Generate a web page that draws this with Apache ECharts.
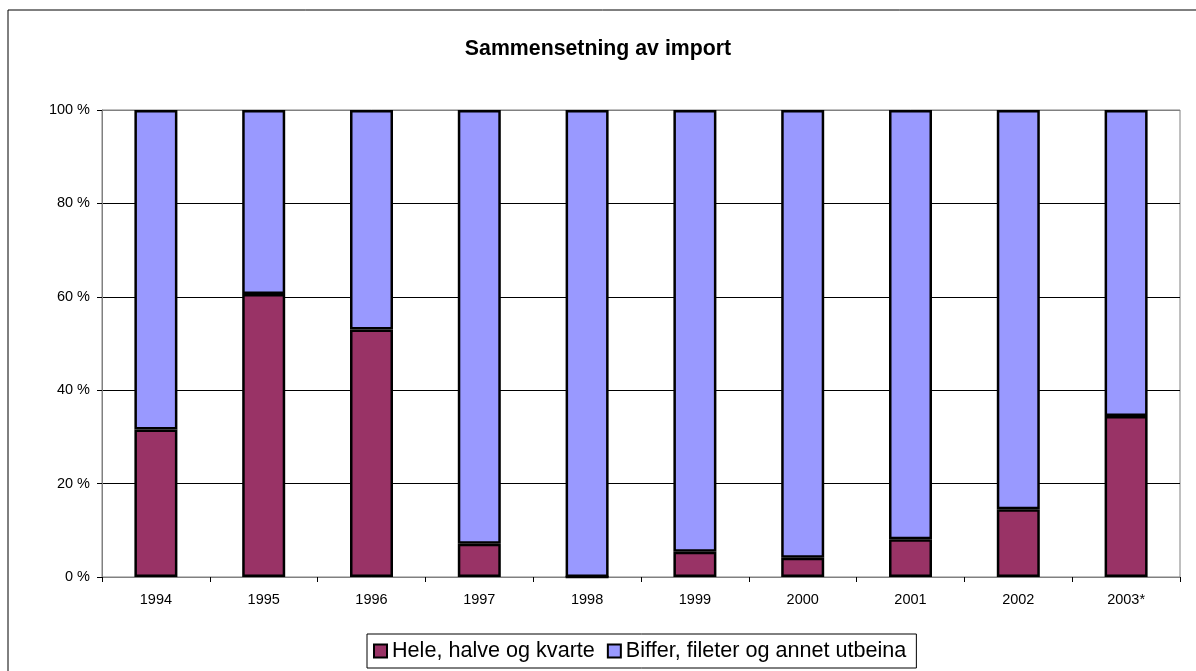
<!DOCTYPE html>
<html>
<head>
<meta charset="utf-8">
<script src="https://cdn.jsdelivr.net/npm/echarts@6/dist/echarts.min.js"></script>
<style>
  html, body { margin: 0; padding: 0; background: #fff; }
  #chart { width: 1196px; height: 671px; }
</style>
</head>
<body>
<div id="chart"></div>
<script>
// kategorier og andeler (prosent)
var years = ["1994", "1995", "1996", "1997", "1998", "1999", "2000", "2001", "2002", "2003*"];
var hele = [31.6, 60.6, 53.0, 7.1, 0, 5.4, 4.1, 8.1, 14.5, 34.5];
var biffer = [68.4, 39.4, 47.0, 92.9, 100, 94.6, 95.9, 91.9, 85.5, 65.5];
var yTicks = [0, 20, 40, 60, 80, 100];

var chart = echarts.init(document.getElementById("chart"));

var font = "Liberation Sans, Arial, sans-serif";

var option = {
  animation: false,
  backgroundColor: "#fff",
  textStyle: { fontFamily: font },
  title: {
    text: "Sammensetning av import",
    left: "center",
    top: 34,
    textStyle: { fontSize: 21.3, fontWeight: "bold", color: "#000", fontFamily: font }
  },
  // ramme rundt hele diagrammet
  graphic: [
    {
      type: "rect",
      shape: { x: 8, y: 10, width: 1300, height: 800 },
      style: { fill: "none", stroke: "#000", lineWidth: 1 },
      silent: true
    }
  ],
  grid: {
    left: 102,
    right: 16,
    top: 110,
    bottom: 94,
    show: true,
    borderColor: "#808080",
    borderWidth: 1,
    backgroundColor: "transparent"
  },
  legend: {
    data: ["Hele, halve og kvarte", "Biffer, fileter og annet utbeina"],
    left: 367,
    top: 634,
    orient: "horizontal",
    icon: "rect",
    itemWidth: 13,
    itemHeight: 13,
    itemGap: 12,
    padding: [6, 10, 6, 6],
    borderColor: "#000",
    borderWidth: 1,
    textStyle: { fontSize: 21.6, color: "#000", fontFamily: font }
  },
  xAxis: {
    type: "category",
    data: years,
    axisLine: { lineStyle: { color: "#808080", width: 1 } },
    axisTick: { show: true, lineStyle: { color: "#000" }, length: 5 },
    axisLabel: { color: "#000", fontSize: 14.5, margin: 15, fontFamily: font }
  },
  yAxis: {
    type: "value",
    min: yTicks[0],
    max: yTicks[yTicks.length - 1],
    interval: 20,
    axisLine: { show: true, lineStyle: { color: "#808080", width: 1 } },
    axisTick: { show: true, lineStyle: { color: "#000" }, length: 5 },
    axisLabel: { color: "#000", fontSize: 14.5, margin: 12, formatter: "{value} %", fontFamily: font },
    splitLine: {
      show: true,
      lineStyle: { color: ["#808080", "#000", "#000", "#000", "#000", "#808080"], width: 1 }
    }
  },
  series: [
    {
      name: "Hele, halve og kvarte",
      type: "bar",
      stack: "total",
      barWidth: 43,
      data: hele,
      itemStyle: { color: "#993366", borderColor: "#000", borderWidth: 2.5 }
    },
    {
      name: "Biffer, fileter og annet utbeina",
      type: "bar",
      stack: "total",
      barWidth: 43,
      data: biffer,
      itemStyle: { color: "#9999FF", borderColor: "#000", borderWidth: 2.5 }
    }
  ]
};

chart.setOption(option);
</script>
</body>
</html>
